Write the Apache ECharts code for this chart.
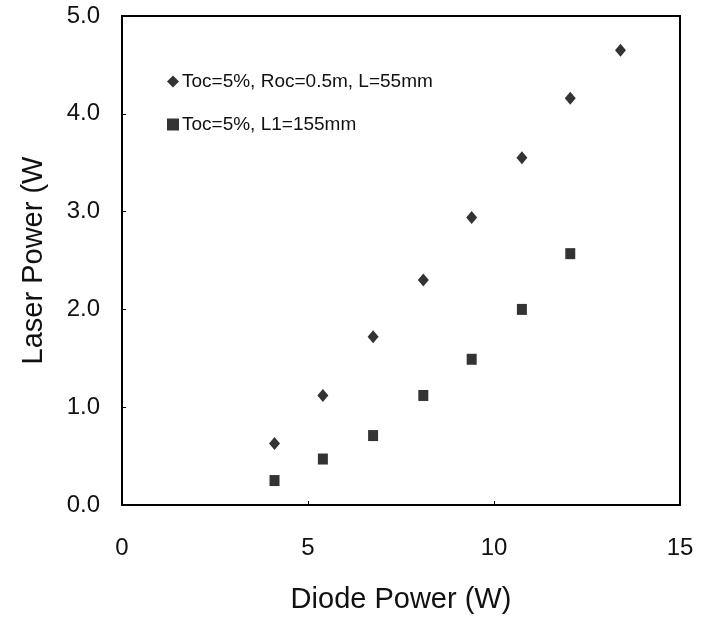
<!DOCTYPE html>
<html>
<head>
<meta charset="utf-8">
<script src="https://cdn.jsdelivr.net/npm/echarts@6/dist/echarts.min.js"></script>
<style>
html, body { margin: 0; padding: 0; background: #fff; }
#chart { width: 701px; height: 622px; }
</style>
</head>
<body>
<div id="chart"></div>
<script>
// values
var diodePower = [4.1, 5.4, 6.75, 8.1, 9.4, 10.75, 12.05, 13.4];
var laser55 = [0.63, 1.12, 1.72, 2.30, 2.94, 3.55, 4.16, 4.65];
var laser155 = [0.25, 0.47, 0.71, 1.12, 1.49, 2.00, 2.57];

var pairs = function (xs, ys) {
    return ys.map(function (y, i) { return [xs[i], y]; });
};

var font = "'Liberation Sans', Arial, sans-serif";
var chart = echarts.init(document.getElementById('chart'));

var option = {
    animation: false,
    backgroundColor: '#fff',
    grid: { left: 122, right: 21, top: 16, bottom: 117, show: true, borderColor: '#000', borderWidth: 2 },
    legend: {
        orient: 'vertical',
        left: 162,
        top: 67,
        itemGap: 24,
        itemWidth: 12,
        itemHeight: 12,
        textStyle: { fontFamily: font, fontSize: 19, color: '#111', padding: [0, 0, 0, -2] },
        data: [
            { name: 'Toc=5%, Roc=0.5m, L=55mm', icon: 'diamond' },
            { name: 'Toc=5%, L1=155mm', icon: 'rect' }
        ]
    },
    xAxis: {
        type: 'value', min: 0, max: 15, interval: 5,
        name: 'Diode Power (W)', nameLocation: 'middle', nameGap: 80,
        nameTextStyle: { fontFamily: font, fontSize: 29, color: '#111' },
        axisLine: { lineStyle: { color: '#000', width: 2 } },
        axisTick: { inside: true, length: 4, lineStyle: { color: '#000' } },
        axisLabel: { fontFamily: font, fontSize: 24, color: '#111', margin: 31 },
        splitLine: { show: false }
    },
    yAxis: {
        type: 'value', min: 0, max: 5, interval: 1,
        name: 'Laser Power (W', nameLocation: 'middle', nameGap: 74,
        nameTextStyle: { fontFamily: font, fontSize: 29, color: '#111' },
        axisLine: { lineStyle: { color: '#000', width: 2 } },
        axisTick: { inside: true, length: 4, lineStyle: { color: '#000' } },
        axisLabel: { fontFamily: font, fontSize: 24, color: '#111', margin: 22,
            formatter: function (v) { return v.toFixed(1); } },
        splitLine: { show: false }
    },
    series: [
        {
            name: 'Toc=5%, Roc=0.5m, L=55mm',
            type: 'scatter',
            symbol: 'diamond',
            symbolSize: [11, 13],
            itemStyle: { color: '#000' },
            data: pairs(diodePower, laser55)
        },
        {
            name: 'Toc=5%, L1=155mm',
            type: 'scatter',
            symbol: 'rect',
            symbolSize: [10, 11],
            itemStyle: { color: '#000' },
            data: pairs(diodePower, laser155)
        }
    ]
};
chart.setOption(option);
</script>
</body>
</html>
